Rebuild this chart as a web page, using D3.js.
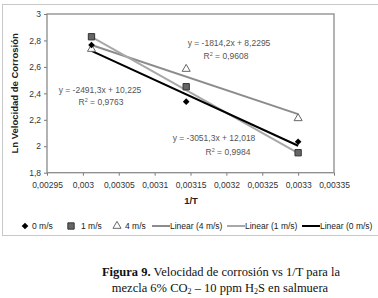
<!DOCTYPE html>
<html>
<head>
<meta charset="utf-8">
<script src="https://cdn.jsdelivr.net/npm/d3@7"></script>
<style>
  body { margin: 0; background: #fff; }
  svg { display: block; font-family: 'Liberation Sans', Arial, sans-serif; }
</style>
</head>
<body>
<div id="chart"></div>
<script>
// 1/T values (x) and Ln corrosion rate per flow velocity
const xValues = [0.003012, 0.003144, 0.0033];
const v0 = [2.766, 2.337, 2.034];   // 0 m/s
const v1 = [2.828, 2.450, 1.951];   // 1 m/s
const v4 = [2.735, 2.584, 2.211];   // 4 m/s

// trendline coefficients as printed on the chart
const trendNames = ['Linear (4 m/s)', 'Linear (1 m/s)', 'Linear (0 m/s)'];
const trendSlopes = [-1814.2, -3051.3, -2491.3];
const trendIntercepts = [8.2295, 12.018, 10.225];
const trendEq = ['y = -1814,2x + 8,2295', 'y = -3051,3x + 12,018', 'y = -2491,3x + 10,225'];
const trendR2 = ['0,9608', '0,9984', '0,9763'];

const xTicks = [0.00295, 0.003, 0.00305, 0.0031, 0.00315, 0.0032, 0.00325, 0.0033, 0.00335];
const yTicks = [1.8, 2, 2.2, 2.4, 2.6, 2.8, 3];

const W = 378, H = 298;
const plot = { left: 47, top: 14, right: 334, bottom: 172.7 };

const loc = d3.formatLocale({ decimal: ',', thousands: '.', grouping: [3], currency: ['', ''] });
const fx = loc.format('.5~f');
const fy = loc.format('.1~f');

const svg = d3.select('#chart').append('svg')
  .attr('width', W).attr('height', H);

// outer chart frame
svg.append('rect')
  .attr('x', 2.5).attr('y', 4.5).attr('width', 380).attr('height', 231)
  .attr('fill', 'none').attr('stroke', '#c8c8c8');

const x = d3.scaleLinear().domain([0.00295, 0.00335]).range([plot.left, plot.right]);
const y = d3.scaleLinear().domain([1.8, 3]).range([plot.bottom, plot.top]);

// axes
const gx = svg.append('g')
  .attr('transform', `translate(0,${plot.bottom})`)
  .call(d3.axisBottom(x).tickValues(xTicks).tickFormat(fx).tickSize(3).tickSizeOuter(0));
const gy = svg.append('g')
  .attr('transform', `translate(${plot.left},0)`)
  .call(d3.axisLeft(y).tickValues(yTicks).tickFormat(fy).tickSize(3).tickSizeOuter(0));

[gx, gy].forEach(g => {
  g.select('.domain').remove();
  g.selectAll('line').attr('stroke', '#777');
  g.selectAll('text').attr('fill', '#333').style('font-size', '8.5px')
    .style('font-family', "'Liberation Sans', Arial, sans-serif");
});
gx.selectAll('text').attr('dy', '1.1em');
gy.selectAll('text').attr('x', -6);

// plot frame
svg.append('rect')
  .attr('x', plot.left).attr('y', plot.top)
  .attr('width', plot.right - plot.left).attr('height', plot.bottom - plot.top)
  .attr('fill', 'none').attr('stroke', '#8a8a8a').attr('stroke-width', 1.3);

// axis titles
svg.append('text')
  .attr('x', 191).attr('y', 204)
  .attr('text-anchor', 'middle')
  .style('font-size', '9.5px').style('font-weight', 'bold').attr('fill', '#222')
  .text('1/T');
svg.append('text')
  .attr('transform', `translate(18,${(plot.top + plot.bottom) / 2}) rotate(-90)`)
  .attr('text-anchor', 'middle')
  .style('font-size', '9.5px').style('font-weight', 'bold').attr('fill', '#222')
  .text('Ln Velocidad de Corrosión');

// trendlines
const trendColors = ['#8c8c8c', '#a8a8a8', '#000'];
const x0 = d3.min(xValues), x1 = d3.max(xValues);
trendSlopes.forEach((m, i) => {
  svg.append('line')
    .attr('x1', x(x0)).attr('y1', y(m * x0 + trendIntercepts[i]))
    .attr('x2', x(x1)).attr('y2', y(m * x1 + trendIntercepts[i]))
    .attr('stroke', trendColors[i]).attr('stroke-width', 2);
});

// markers
const diamond = d3.symbol().type(d3.symbolSquare).size(22);
const square = d3.symbol().type(d3.symbolSquare).size(40);
const triangle = d3.symbol().type(d3.symbolTriangle).size(28);

svg.append('g').selectAll('path').data(v4).join('path')
  .attr('transform', (d, i) => `translate(${x(xValues[i])},${y(d)})`)
  .attr('d', triangle).attr('fill', '#fff').attr('stroke', '#666').attr('stroke-width', 1);
svg.append('g').selectAll('path').data(v1).join('path')
  .attr('transform', (d, i) => `translate(${x(xValues[i])},${y(d)})`)
  .attr('d', square).attr('fill', '#666').attr('stroke', '#333').attr('stroke-width', 1);
svg.append('g').selectAll('path').data(v0).join('path')
  .attr('transform', (d, i) => `translate(${x(xValues[i])},${y(d)}) rotate(45)`)
  .attr('d', diamond).attr('fill', '#000');

// equation labels
const eqPos = [
  { x: 229, y: 46, rx: 226, ry: 59 },
  { x: 214, y: 141, rx: 228, ry: 155 },
  { x: 100, y: 93, rx: 101, ry: 105 }
];
eqPos.forEach((p, i) => {
  svg.append('text').attr('x', p.x).attr('y', p.y)
    .attr('text-anchor', 'middle').attr('fill', '#555').style('font-size', '8.5px')
    .text(trendEq[i]);
  const r = svg.append('text').attr('x', p.rx).attr('y', p.ry)
    .attr('text-anchor', 'middle').attr('fill', '#555').style('font-size', '8.5px');
  r.append('tspan').text('R');
  r.append('tspan').attr('dy', -3).style('font-size', '5.5px').text('2');
  r.append('tspan').attr('dy', 3).text(' = ' + trendR2[i]);
});

// legend
const lg = svg.append('g').style('font-size', '8.5px').attr('fill', '#222');
const ly = 226;
lg.append('path').attr('transform', `translate(25,${ly}) rotate(45)`).attr('d', diamond).attr('fill', '#000');
lg.append('text').attr('x', 32).attr('y', ly + 3).text('0 m/s');
lg.append('path').attr('transform', `translate(71,${ly})`).attr('d', square).attr('fill', '#666').attr('stroke', '#333');
lg.append('text').attr('x', 81).attr('y', ly + 3).text('1 m/s');
lg.append('path').attr('transform', `translate(117,${ly})`).attr('d', triangle).attr('fill', '#fff').attr('stroke', '#666');
lg.append('text').attr('x', 125).attr('y', ly + 3).text('4 m/s');
const lineItems = [152, 227, 302];
lineItems.forEach((lx, i) => {
  lg.append('line').attr('x1', lx).attr('x2', lx + 18).attr('y1', ly).attr('y2', ly)
    .attr('stroke', trendColors[i]).attr('stroke-width', 2);
  lg.append('text').attr('x', lx + 18).attr('y', ly + 3).text(trendNames[i]);
});

// caption
const cap = svg.append('g')
  .style('font-family', "'Liberation Serif', 'Times New Roman', serif")
  .style('font-size', '12.5px').attr('fill', '#111');
const c1 = cap.append('text').attr('x', 221).attr('y', 276).attr('text-anchor', 'middle');
c1.append('tspan').style('font-weight', 'bold').text('Figura 9.');
c1.append('tspan').text(' Velocidad de corrosión vs 1/T para la');
const c2 = cap.append('text').attr('x', 220).attr('y', 292).attr('text-anchor', 'middle');
c2.append('tspan').text('mezcla 6% CO');
c2.append('tspan').attr('dy', 2).style('font-size', '8px').text('2');
c2.append('tspan').attr('dy', -2).text(' – 10 ppm H');
c2.append('tspan').attr('dy', 2).style('font-size', '8px').text('2');
c2.append('tspan').attr('dy', -2).text('S en salmuera');
</script>
</body>
</html>
